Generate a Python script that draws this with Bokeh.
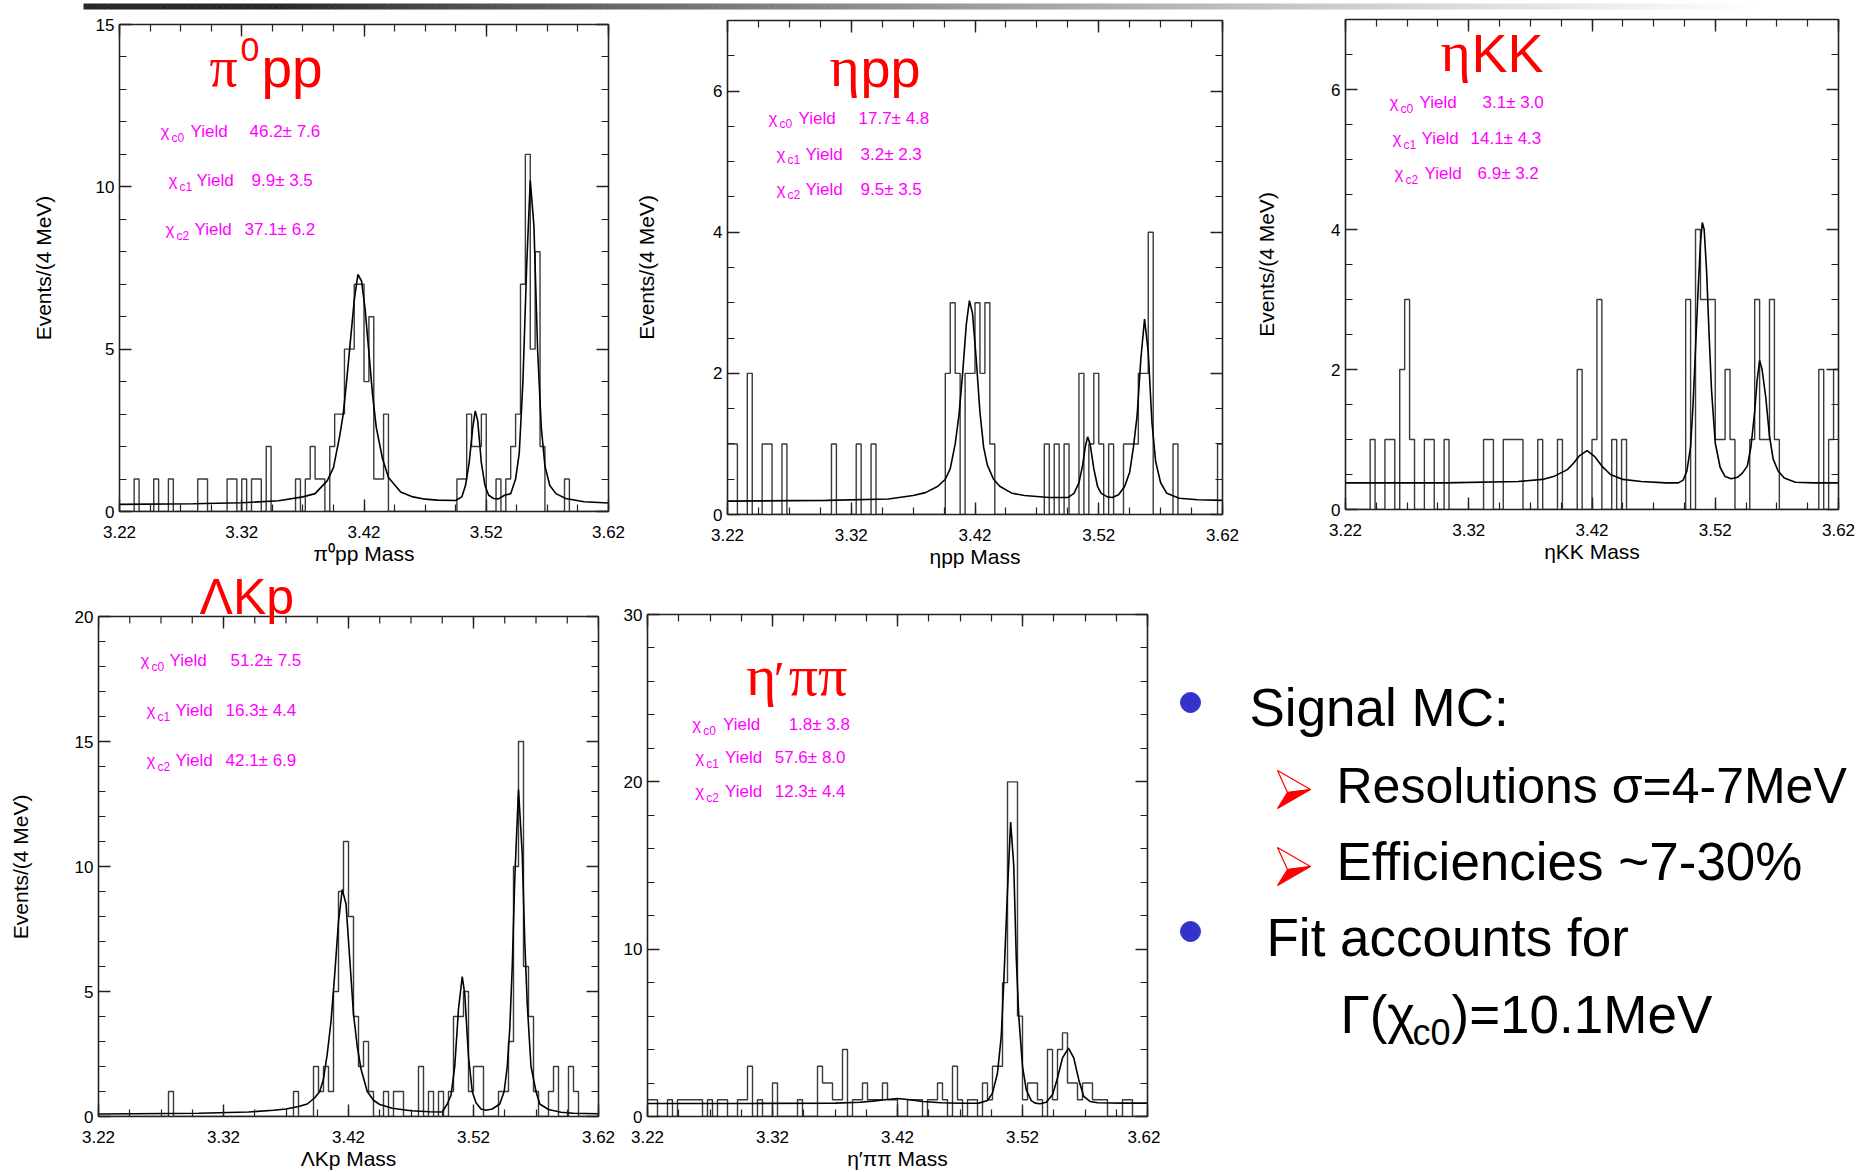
from bokeh.plotting import figure
from bokeh.layouts import column, row
from bokeh.models import Range1d, LinearAxis, FixedTicker, PrintfTickFormatter, Label
from bokeh.embed import file_html
from bokeh.resources import INLINE
from bokeh.core.properties import value

# ------------------------------------------------------------------ data
MASS_LO, MASS_HI, BIN_W, N_BINS = 3.22, 3.62, 0.004, 100
x_tick_values = [3.22, 3.32, 3.42, 3.52, 3.62]

# histogram contents: {bin index (4 MeV bins from 3.22 GeV): events}
pi0pp_counts = {3: 1, 7: 1, 10: 1, 16: 1, 17: 1, 22: 1, 23: 1, 25: 1, 27: 1, 28: 1, 30: 2,
                36: 1, 38: 1, 39: 2, 40: 1, 41: 1, 43: 2, 44: 3, 45: 3, 46: 5, 47: 5, 48: 7,
                49: 7, 50: 4, 51: 6, 52: 1, 53: 1, 54: 3, 69: 1, 70: 1, 71: 3, 72: 2, 73: 2,
                74: 3, 77: 1, 79: 1, 80: 2, 81: 3, 82: 7, 83: 11, 84: 5, 85: 8, 86: 2, 91: 1}
etapp_counts = {0: 1, 1: 1, 4: 2, 7: 1, 8: 1, 11: 1, 21: 1, 26: 1, 29: 1, 44: 2, 45: 3, 46: 2,
                48: 2, 49: 2, 50: 3, 51: 2, 52: 3, 53: 1, 64: 1, 66: 1, 68: 1, 71: 2, 73: 1,
                74: 2, 75: 1, 77: 1, 80: 1, 81: 1, 82: 1, 83: 2, 84: 2, 85: 4, 90: 1, 99: 1}
etaKK_counts = {5: 1, 8: 1, 9: 1, 11: 2, 12: 3, 13: 1, 16: 1, 17: 1, 20: 1, 28: 1, 29: 1,
                32: 1, 33: 1, 34: 1, 35: 1, 39: 1, 43: 1, 47: 2, 50: 1, 51: 3, 54: 1, 56: 1,
                69: 3, 71: 4, 72: 3, 73: 3, 74: 3, 75: 1, 76: 1, 77: 2, 78: 1, 82: 1, 83: 3,
                84: 1, 85: 1, 86: 3, 87: 1, 96: 2, 98: 1, 99: 2}
LKp_counts = {14: 1, 39: 1, 43: 2, 44: 1, 45: 2, 46: 1, 47: 5, 48: 9, 49: 11, 50: 8, 51: 4,
              52: 2, 53: 3, 54: 1, 57: 1, 59: 1, 60: 1, 64: 2, 66: 1, 68: 1, 70: 1, 71: 4,
              72: 4, 73: 5, 74: 1, 75: 2, 76: 2, 80: 1, 81: 1, 82: 3, 83: 10, 84: 15, 85: 6,
              86: 4, 87: 1, 90: 1, 91: 2, 94: 2, 95: 1}
etappipi_counts = {0: 1, 1: 1, 4: 1, 6: 1, 7: 1, 8: 1, 9: 1, 10: 1, 12: 1, 14: 1, 15: 1, 18: 1,
                   19: 1, 20: 3, 22: 1, 25: 2, 30: 1, 34: 3, 35: 2, 36: 2, 37: 1, 38: 1, 39: 4,
                   41: 1, 42: 1, 43: 2, 44: 1, 45: 1, 46: 1, 47: 2, 48: 1, 49: 1, 52: 1, 53: 1,
                   54: 1, 56: 1, 57: 1, 58: 2, 59: 1, 61: 3, 62: 1, 64: 1, 65: 1, 67: 2, 68: 1,
                   69: 3, 70: 3, 71: 8, 72: 20, 73: 20, 74: 6, 75: 1, 76: 2, 77: 2, 78: 1, 80: 4,
                   81: 1, 82: 4, 83: 5, 84: 2, 85: 2, 86: 1, 87: 2, 88: 2, 89: 1, 90: 1, 91: 1,
                   95: 1, 96: 1}

# fit curves
pi0pp_fit_x = [3.22, 3.28, 3.32, 3.35, 3.37, 3.38, 3.39, 3.395, 3.40, 3.403, 3.406, 3.409, 3.412,
               3.415, 3.418, 3.421, 3.424, 3.427, 3.43, 3.435, 3.44, 3.45, 3.46, 3.47, 3.48, 3.495,
               3.50, 3.503, 3.506, 3.509, 3.511, 3.513, 3.516, 3.519, 3.522, 3.526, 3.53, 3.535,
               3.54, 3.544, 3.547, 3.55, 3.553, 3.556, 3.559, 3.562, 3.565, 3.568, 3.572, 3.577,
               3.585, 3.60, 3.62]
pi0pp_fit_y = [0.22, 0.24, 0.27, 0.33, 0.45, 0.55, 0.95, 1.35, 2.3, 3.0, 4.1, 5.3, 6.5,
               7.3, 7.1, 6.2, 4.9, 3.6, 2.6, 1.65, 1.05, 0.6, 0.45, 0.38, 0.35, 0.34,
               0.45, 0.8, 1.5, 2.6, 3.1, 2.8, 1.5, 0.8, 0.5, 0.4, 0.39, 0.5,
               0.55, 1.0, 1.8, 4.0, 7.5, 10.2, 8.8, 5.0, 2.6, 1.4, 0.8, 0.55,
               0.4, 0.3, 0.26]
etapp_fit_x = [3.22, 3.30, 3.35, 3.37, 3.38, 3.39, 3.396, 3.40, 3.404, 3.407, 3.41, 3.413, 3.4155,
               3.418, 3.421, 3.424, 3.427, 3.43, 3.435, 3.44, 3.45, 3.46, 3.48, 3.495,
               3.50, 3.504, 3.507, 3.509, 3.511, 3.513, 3.516, 3.519, 3.522, 3.527, 3.531,
               3.536, 3.541, 3.545, 3.548, 3.551, 3.554, 3.557, 3.56, 3.563, 3.566, 3.57, 3.575,
               3.585, 3.60, 3.62]
etapp_fit_y = [0.19, 0.2, 0.22, 0.27, 0.31, 0.4, 0.5, 0.65, 1.0, 1.4, 2.0, 2.7, 3.03,
               2.85, 2.2, 1.45, 0.95, 0.7, 0.5, 0.4, 0.3, 0.27, 0.24, 0.24,
               0.3, 0.45, 0.7, 0.95, 1.1, 1.0, 0.65, 0.4, 0.3, 0.25, 0.24,
               0.28, 0.4, 0.6, 0.95, 1.4, 2.2, 2.77, 2.3, 1.3, 0.75, 0.45, 0.3,
               0.23, 0.21, 0.2]
etaKK_fit_x = [3.22, 3.30, 3.36, 3.38, 3.39, 3.40, 3.405, 3.41, 3.416, 3.422, 3.428, 3.435, 3.445,
               3.46, 3.48, 3.49, 3.494, 3.497, 3.50, 3.502, 3.504, 3.506, 3.508, 3.5095, 3.511,
               3.513, 3.515, 3.517, 3.52, 3.524, 3.528, 3.533, 3.538, 3.542, 3.546, 3.549, 3.552,
               3.554, 3.556, 3.558, 3.561, 3.564, 3.567, 3.571, 3.576, 3.585, 3.60, 3.62]
etaKK_fit_y = [0.38, 0.38, 0.4, 0.43, 0.48, 0.57, 0.66, 0.77, 0.84, 0.76, 0.62, 0.5, 0.43,
               0.4, 0.38, 0.38, 0.42, 0.55, 0.9, 1.5, 2.3, 3.1, 3.8, 4.1, 4.0,
               3.4, 2.5, 1.7, 0.95, 0.6, 0.47, 0.44, 0.46, 0.52, 0.62, 0.9, 1.4,
               1.85, 2.13, 2.0, 1.6, 1.05, 0.72, 0.55, 0.45, 0.39, 0.38, 0.38]
LKp_fit_x = [3.22, 3.30, 3.34, 3.36, 3.37, 3.38, 3.387, 3.393, 3.397, 3.40, 3.403, 3.406, 3.409,
             3.412, 3.415, 3.418, 3.421, 3.424, 3.427, 3.43, 3.435, 3.44, 3.445, 3.455, 3.47,
             3.485, 3.495, 3.499, 3.502, 3.505, 3.508, 3.511, 3.513, 3.516, 3.519, 3.522, 3.526,
             3.53, 3.535, 3.541, 3.5445, 3.547, 3.549, 3.551, 3.553, 3.556, 3.559, 3.561, 3.563,
             3.566, 3.57, 3.573, 3.58, 3.59, 3.60, 3.62]
LKp_fit_y = [0.1, 0.13, 0.18, 0.25, 0.3, 0.4, 0.5, 0.75, 1.0, 1.5, 2.5, 3.8, 5.7,
             7.8, 9.08, 8.5, 6.3, 4.1, 2.8, 1.9, 1.0, 0.65, 0.48, 0.33, 0.23,
             0.19, 0.18, 0.5, 0.85, 2.0, 4.3, 5.6, 4.9, 2.4, 1.0, 0.55, 0.3,
             0.25, 0.3, 0.5, 1.0, 2.0, 3.5, 6.0, 9.5, 13.08, 10.5, 7.0, 4.5,
             2.0, 1.0, 0.5, 0.28, 0.17, 0.13, 0.11]
etappipi_fit_x = [3.22, 3.30, 3.37, 3.39, 3.40, 3.41, 3.42, 3.43, 3.44, 3.455, 3.47, 3.485, 3.492,
                  3.496, 3.50, 3.503, 3.505, 3.508, 3.5105, 3.513, 3.515, 3.517, 3.52, 3.523,
                  3.527, 3.53, 3.534, 3.539, 3.544, 3.548, 3.552, 3.5568, 3.561, 3.565, 3.569,
                  3.574, 3.58, 3.60, 3.62]
etappipi_fit_y = [0.78, 0.78, 0.8, 0.85, 0.92, 1.0, 1.08, 1.0, 0.9, 0.82, 0.79, 0.8, 0.95,
                  1.4, 2.6, 4.8, 8.0, 13.5, 17.6, 15.0, 9.5, 6.0, 3.0, 1.6,
                  0.95, 0.8, 0.76, 0.85, 1.3, 2.3, 3.5, 4.08, 3.5, 2.2, 1.2,
                  0.9, 0.82, 0.8, 0.8]

# fitted yields (state subscript, value)
pi0pp_yields = [("c0", "46.2\u00b1 7.6"), ("c1", "9.9\u00b1 3.5"), ("c2", "37.1\u00b1 6.2")]
etapp_yields = [("c0", "17.7\u00b1 4.8"), ("c1", "3.2\u00b1 2.3"), ("c2", "9.5\u00b1 3.5")]
etaKK_yields = [("c0", "3.1\u00b1 3.0"), ("c1", "14.1\u00b1 4.3"), ("c2", "6.9\u00b1 3.2")]
LKp_yields = [("c0", "51.2\u00b1 7.5"), ("c1", "16.3\u00b1 4.4"), ("c2", "42.1\u00b1 6.9")]
etappipi_yields = [("c0", "1.8\u00b1 3.8"), ("c1", "57.6\u00b1 8.0"), ("c2", "12.3\u00b1 4.4")]

# ------------------------------------------------------------------ layout / style
SANS = "Liberation Sans"
SERIF = "Liberation Serif"
RED = "#ff0000"
MAG = "#ff00ff"
AX_COL = "#222222"
BASE_FIX = 0.4          # empirical shift of the alphabetic baseline (fraction of font size)
MAJ_TICK, MIN_TICK = 12, 7
NBSP = "\u00a0"
x_minor = [round(MASS_LO + 0.025 * k, 3) for k in range(17)]

panels = [
    dict(name="pi0pp", counts=pi0pp_counts, fx=pi0pp_fit_x, fy=pi0pp_fit_y, yields=pi0pp_yields,
         ymax=15, ymajor=[0, 5, 10, 15], yminor=list(range(0, 16)),
         xlabel="\u03c0\u2070pp Mass", ylabel="Events/(4 MeV)", ystand=38,
         box=(0, 12, 630, 558), frame=(119, 608, 24, 511), title_over_frame=False,
         title=[("\u03c0", SERIF, 56, 209, 89), ("0", SANS, 34, 240, 63), ("pp", SANS, 55, 261, 89)],
         rows=[(160, 190, 249, 138), (168, 196, 251, 187), (165, 194, 244, 236)]),
    dict(name="etapp", counts=etapp_counts, fx=etapp_fit_x, fy=etapp_fit_y, yields=etapp_yields,
         ymax=7, ymajor=[0, 2, 4, 6], yminor=[k * 0.5 for k in range(15)],
         xlabel="\u03b7pp Mass", ylabel="Events/(4 MeV)", ystand=52,
         box=(630, 12, 620, 558), frame=(727, 1222, 20, 515), title_over_frame=False,
         title=[("\u03b7", SERIF, 58, 829, 89), ("pp", SANS, 54, 860, 89)],
         rows=[(768, 798, 858, 125), (776, 805, 860, 161), (776, 805, 860, 196)]),
    dict(name="etaKK", counts=etaKK_counts, fx=etaKK_fit_x, fy=etaKK_fit_y, yields=etaKK_yields,
         ymax=7, ymajor=[0, 2, 4, 6], yminor=[k * 0.5 for k in range(15)],
         xlabel="\u03b7KK Mass", ylabel="Events/(4 MeV)", ystand=50,
         box=(1250, 12, 615, 558), frame=(1345, 1838, 19, 509), title_over_frame=False,
         title=[("\u03b7", SERIF, 58, 1440, 74), ("KK", SANS, 54, 1471, 74)],
         rows=[(1389, 1419, 1482, 109), (1392, 1421, 1470, 145), (1394, 1424, 1477, 180)]),
    dict(name="LKp", counts=LKp_counts, fx=LKp_fit_x, fy=LKp_fit_y, yields=LKp_yields,
         ymax=20, ymajor=[0, 5, 10, 15, 20], yminor=list(range(0, 21)),
         xlabel="\u039bKp Mass", ylabel="Events/(4 MeV)", ystand=40,
         box=(0, 570, 620, 602), frame=(98, 598, 616, 1116), title_over_frame=True,
         title=[("\u039bKp", SANS, 50, 199, 616)],
         rows=[(140, 169, 230, 667), (146, 175, 225, 717), (146, 175, 225, 767)]),
    dict(name="etappipi", counts=etappipi_counts, fx=etappipi_fit_x, fy=etappipi_fit_y,
         yields=etappipi_yields,
         ymax=30, ymajor=[0, 10, 20, 30], yminor=list(range(0, 31, 2)),
         xlabel="\u03b7\u2032\u03c0\u03c0 Mass", ylabel=None, ystand=10,
         box=(620, 570, 540, 602), frame=(644, 1147, 614, 1116), title_over_frame=False,
         title=[("\u03b7", SERIF, 58, 743, 698), ("\u2032", SERIF, 50, 771, 698),
                ("\u03c0\u03c0", SERIF, 58, 786, 698)],
         rows=[(689, 720, 786, 731), (692, 722, 772, 764), (692, 722, 772, 798)]),
]


def style_axis(ax, labels=True):
    ax.axis_line_width = 1.6
    ax.axis_line_color = AX_COL
    ax.major_tick_in = MAJ_TICK
    ax.major_tick_out = 0
    ax.minor_tick_in = MIN_TICK
    ax.minor_tick_out = 0
    ax.major_tick_line_width = 1.4
    ax.minor_tick_line_width = 1.2
    ax.major_tick_line_color = AX_COL
    ax.minor_tick_line_color = AX_COL
    if labels:
        ax.major_label_text_font = SANS
        ax.major_label_text_font_size = "17px"
        ax.major_label_text_color = "black"
        ax.axis_label_text_font = SANS
        ax.axis_label_text_font_size = "21px"
        ax.axis_label_text_font_style = "normal"
        ax.axis_label_text_color = "black"
    else:
        ax.major_label_text_font_size = "1px"
        ax.major_label_text_color = None
        ax.major_label_standoff = 0
        ax.axis_label = None


def build_panel(c):
    fl, fr, ft, fb = c["frame"]
    bx, by, W, H = c["box"]
    ymax = c["ymax"]
    px_per_unit = (fb - ft) / ymax
    over = c["title_over_frame"]
    # when the title must overlap the top edge, the plotting area reaches above it
    ft_fig = by if over else ft
    y_end = (fb - ft_fig) / px_per_unit
    p = figure(width=W, height=H, title=None,
               x_range=Range1d(MASS_LO, MASS_HI), y_range=Range1d(0, y_end),
               x_axis_type=None, y_axis_type=None,
               output_backend="svg", toolbar_location=None,
               min_border_left=fl - bx, min_border_right=bx + W - fr,
               min_border_top=ft_fig - by, min_border_bottom=by + H - fb)
    p.outline_line_color = None
    p.background_fill_color = "white"
    p.border_fill_color = "white"

    xt = FixedTicker(ticks=x_tick_values, minor_ticks=x_minor)
    yt = FixedTicker(ticks=c["ymajor"], minor_ticks=c["yminor"])

    xb = LinearAxis(ticker=xt, formatter=PrintfTickFormatter(format="%.2f"), axis_label=c["xlabel"])
    style_axis(xb)
    xb.major_label_standoff = 14
    xb.axis_label_standoff = 1
    p.add_layout(xb, "below")

    ylabel = c["ylabel"]
    if ylabel and over:
        # the axis label is centred on the whole plotting area; pad it so that the
        # visible words sit centred on the drawn box
        n_pad = round((ft - ft_fig) / (0.278 * 21))
        ylabel = ylabel + NBSP * n_pad
    yl = LinearAxis(ticker=yt, axis_label=ylabel, bounds=(0, ymax))
    style_axis(yl)
    yl.major_label_standoff = 5
    yl.axis_label_standoff = c["ystand"]
    p.add_layout(yl, "left")
    yr = LinearAxis(ticker=yt, bounds=(0, ymax))
    style_axis(yr, labels=False)
    p.add_layout(yr, "right")

    if over:
        # top edge of the box drawn at y = ymax with inward ticks
        p.segment(x0=[MASS_LO], y0=[ymax], x1=[MASS_HI], y1=[ymax], line_color=AX_COL, line_width=1.6)
        p.segment(x0=x_tick_values, y0=[ymax] * len(x_tick_values), x1=x_tick_values,
                  y1=[ymax - MAJ_TICK / px_per_unit] * len(x_tick_values),
                  line_color=AX_COL, line_width=1.4)
        p.segment(x0=x_minor, y0=[ymax] * len(x_minor), x1=x_minor,
                  y1=[ymax - MIN_TICK / px_per_unit] * len(x_minor),
                  line_color=AX_COL, line_width=1.2)
    else:
        xa = LinearAxis(ticker=xt)
        style_axis(xa, labels=False)
        p.add_layout(xa, "above")

    counts = [c["counts"].get(i, 0) for i in range(N_BINS)]
    edges = [MASS_LO + BIN_W * i for i in range(N_BINS + 1)]
    p.step(x=edges, y=counts + [counts[-1]], mode="after", line_color="#3a3a3a", line_width=1.4)
    p.line(c["fx"], c["fy"], line_color="black", line_width=1.6)

    def to_data(px, py):
        return (MASS_LO + (px - fl) / (fr - fl) * (MASS_HI - MASS_LO), (fb - py) / px_per_unit)

    def put(txt, font, size, px, py, color):
        x, y = to_data(px, py - BASE_FIX * size)
        p.add_layout(Label(x=x, y=y, text=txt, text_font=font, text_font_size=f"{size}px",
                           text_color=color, text_baseline="alphabetic", text_align="left"))

    for txt, font, size, px, py in c["title"]:
        put(txt, font, size, px, py, RED)

    for (sub, val), (cx, yx, vx, base) in zip(c["yields"], c["rows"]):
        put("\u03c7", SANS, 17, cx, base, MAG)
        put(sub, SANS, 12, cx + 11, base + 4, MAG)
        put("Yield", SANS, 17, yx, base, MAG)
        put(val, SANS, 17, vx, base, MAG)
    return p


figs = [build_panel(c) for c in panels]

# ---- decorative gradient bar on top of the slide
bar = figure(width=1865, height=12, title=None, x_range=Range1d(0, 1865), y_range=Range1d(0, 12),
             x_axis_type=None, y_axis_type=None, output_backend="svg", toolbar_location=None,
             min_border_left=0, min_border_right=0, min_border_top=0, min_border_bottom=0)
bar.outline_line_color = None
seg_l, seg_r, seg_c = [], [], []
n_seg = 240
x0, x1 = 83, 1760
for k in range(n_seg):
    a = x0 + (x1 - x0) * k / n_seg
    b = x0 + (x1 - x0) * (k + 1) / n_seg + 0.5
    t = k / (n_seg - 1)
    g = 40 if t < 0.12 else int(40 + 215 * ((t - 0.12) / 0.88) ** 0.8)
    g = min(255, g)
    seg_l.append(a)
    seg_r.append(b)
    seg_c.append("#%02x%02x%02x" % (g, g, g))
bar.quad(left=seg_l, right=seg_r, bottom=3, top=9, fill_color=seg_c, line_color=None)

# ---- text block on the right (coordinates: pixels from the block's top-left corner)
TX_BT, TX_BB, TX_H, TX_W = 46, 56, 602, 705
tx = figure(width=TX_W, height=TX_H, title=None, x_range=Range1d(0, TX_W),
            y_range=Range1d(TX_H - TX_BB, TX_BT),
            x_axis_type=None, y_axis_type=None, output_backend="svg", toolbar_location=None,
            min_border_left=0, min_border_right=0, min_border_top=TX_BT, min_border_bottom=TX_BB)
tx.outline_line_color = None
tx.scatter(x=[30, 30], y=[132, 361], size=20, marker="circle", fill_color="#3333cc",
           line_color="#3333cc")
BIG = 53
big = dict(text_font=value(SANS), text_font_size=f"{BIG}px", text_baseline="alphabetic",
           text_align="left", text_color="black")
fixb = BASE_FIX * BIG
tx.text(x=[89], y=[158 - fixb], text=["Signal MC:"], **big)
tx.text(x=[176], y=[235 - BASE_FIX * 50], text=["Resolutions \u03c3=4-7MeV"], text_font=value(SANS),
        text_font_size="50px", text_baseline="alphabetic", text_align="left", text_color="black")
tx.text(x=[176], y=[312 - fixb], text=["Efficiencies ~7-30%"], **big)
tx.text(x=[106], y=[388 - fixb], text=["Fit accounts for"], **big)
tx.text(x=[180], y=[465 - fixb], text=["\u0393(\u03c7"], **big)
tx.text(x=[252], y=[476 - BASE_FIX * 36], text=["c0"], text_font=value(SANS), text_font_size="36px",
        text_baseline="alphabetic", text_align="left", text_color="black")
tx.text(x=[291], y=[465 - fixb], text=[")=10.1MeV"], **big)
for dy in (0, 77):
    tx.patch([117, 150, 127], [200 + dy, 219 + dy, 222 + dy], fill_color="white",
             line_color=RED, line_width=1.2)
    tx.patch([127, 150, 117], [222 + dy, 219 + dy, 238 + dy], fill_color=RED,
             line_color=RED, line_width=1.2)

layout = column(bar,
                row(column(figs[0]), column(figs[1]), column(figs[2])),
                row(column(figs[3]), column(figs[4]), column(tx)))
open("out.html", "w").write(file_html(layout, INLINE))
